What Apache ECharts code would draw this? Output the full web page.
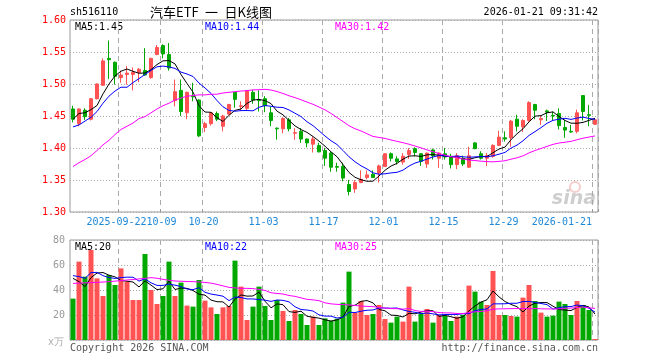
<!DOCTYPE html>
<html><head><meta charset="utf-8">
<script src="https://cdn.jsdelivr.net/npm/echarts@6/dist/echarts.min.js"></script>
<style>html,body{margin:0;padding:0;background:#fff}#c{width:660px;height:360px}</style>
</head><body><div id="c"></div>
<script>
// ---------- data ----------
const dates = [
"2025-09-10","2025-09-11","2025-09-12","2025-09-15","2025-09-16","2025-09-17","2025-09-18","2025-09-19",
"2025-09-22","2025-09-23","2025-09-24","2025-09-25","2025-09-26","2025-09-29","2025-09-30",
"2025-10-09","2025-10-10","2025-10-13","2025-10-14","2025-10-15","2025-10-16","2025-10-17",
"2025-10-20","2025-10-21","2025-10-22","2025-10-23","2025-10-24","2025-10-27","2025-10-28","2025-10-29","2025-10-30","2025-10-31",
"2025-11-03","2025-11-04","2025-11-05","2025-11-06","2025-11-07","2025-11-10","2025-11-11","2025-11-12","2025-11-13","2025-11-14",
"2025-11-17","2025-11-18","2025-11-19","2025-11-20","2025-11-21","2025-11-24","2025-11-25","2025-11-26","2025-11-27","2025-11-28",
"2025-12-01","2025-12-02","2025-12-03","2025-12-04","2025-12-05","2025-12-08","2025-12-09","2025-12-10","2025-12-11","2025-12-12",
"2025-12-15","2025-12-16","2025-12-17","2025-12-18","2025-12-19","2025-12-22","2025-12-23","2025-12-24","2025-12-25","2025-12-26",
"2025-12-29","2025-12-30","2025-12-31",
"2026-01-05","2026-01-06","2026-01-07","2026-01-08","2026-01-09","2026-01-12","2026-01-13","2026-01-14","2026-01-15","2026-01-16",
"2026-01-19","2026-01-20","2026-01-21"];

const tickDates  = ["2025-09-22","2025-10-09","2025-10-20","2025-11-03","2025-11-17","2025-12-01","2025-12-15","2025-12-29","2026-01-21"];
const tickLabels = ["2025-09-22","10-09","10-20","11-03","11-17","12-01","12-15","12-29","2026-01-21"];

const opens  = [1.461,1.438,1.459,1.445,1.477,1.498,1.540,1.534,1.510,1.515,
                1.515,1.518,1.521,1.510,1.546,1.560,1.546,1.474,1.490,1.455,
                1.481,1.475,1.432,1.438,1.454,1.434,1.453,1.487,1.465,1.462,
                1.487,1.475,1.477,1.455,1.431,1.430,1.444,1.423,1.426,1.414,
                1.406,1.404,1.396,1.392,1.371,1.371,1.343,1.336,1.346,1.354,
                1.359,1.361,1.371,1.391,1.383,1.378,1.390,1.399,1.391,1.375,
                1.397,1.384,1.391,1.387,1.374,1.384,1.370,1.408,1.391,1.384,
                1.387,1.404,1.416,1.416,1.445,1.433,1.443,1.468,1.444,1.458,
                1.451,1.454,1.432,1.426,1.426,1.482,1.452,1.437];
const closes = [1.445,1.461,1.449,1.477,1.500,1.536,1.538,1.512,1.514,1.517,
                1.518,1.523,1.514,1.540,1.557,1.547,1.525,1.488,1.457,1.487,
                1.480,1.419,1.438,1.455,1.445,1.450,1.468,1.476,1.466,1.489,
                1.475,1.474,1.466,1.443,1.430,1.446,1.430,1.424,1.414,1.408,
                1.414,1.394,1.384,1.370,1.370,1.353,1.332,1.346,1.351,1.358,
                1.354,1.372,1.391,1.384,1.379,1.387,1.396,1.393,1.379,1.392,
                1.388,1.392,1.386,1.374,1.388,1.375,1.388,1.399,1.384,1.388,
                1.404,1.417,1.414,1.442,1.434,1.443,1.471,1.459,1.446,1.456,
                1.450,1.435,1.428,1.425,1.455,1.457,1.451,1.444];
const lows   = [1.440,1.434,1.444,1.443,1.476,1.497,1.508,1.499,1.502,1.499,
                1.490,1.503,1.513,1.508,1.545,1.540,1.521,1.465,1.450,1.445,
                1.473,1.417,1.425,1.435,1.442,1.426,1.452,1.463,1.458,1.458,
                1.469,1.457,1.456,1.434,1.413,1.423,1.426,1.413,1.408,1.401,
                1.393,1.393,1.372,1.363,1.363,1.348,1.326,1.330,1.345,1.351,
                1.353,1.346,1.371,1.379,1.374,1.374,1.383,1.387,1.372,1.369,
                1.382,1.369,1.382,1.368,1.367,1.372,1.369,1.398,1.382,1.372,
                1.385,1.403,1.410,1.402,1.426,1.425,1.441,1.445,1.436,1.442,
                1.443,1.429,1.416,1.424,1.423,1.443,1.434,1.436];
const highs  = [1.466,1.462,1.462,1.478,1.501,1.540,1.568,1.535,1.521,1.528,
                1.526,1.525,1.556,1.541,1.561,1.562,1.564,1.507,1.507,1.488,
                1.502,1.476,1.441,1.456,1.457,1.452,1.469,1.487,1.473,1.490,
                1.491,1.490,1.481,1.464,1.432,1.448,1.447,1.431,1.431,1.415,
                1.418,1.408,1.400,1.395,1.377,1.377,1.350,1.350,1.365,1.365,
                1.365,1.374,1.392,1.393,1.387,1.392,1.400,1.401,1.392,1.393,
                1.399,1.393,1.400,1.391,1.392,1.388,1.402,1.409,1.395,1.392,
                1.406,1.427,1.426,1.444,1.452,1.445,1.473,1.469,1.450,1.460,
                1.457,1.462,1.444,1.436,1.460,1.482,1.467,1.446];
// volume in 万手
const volumes = [33.1,62.7,50.7,72.0,49.3,35.2,52.0,44.0,57.3,46.7,
                 32.0,32.0,68.8,40.0,28.8,35.2,62.7,35.2,45.9,27.5,
                 26.7,48.0,31.5,26.1,20.8,26.1,27.2,63.5,42.7,16.0,
                 26.7,42.7,27.2,16.0,32.0,23.2,15.2,24.0,20.8,12.0,
                 18.7,12.0,17.3,15.5,17.0,29.9,54.7,21.9,31.2,20.0,
                 20.8,28.0,16.8,13.9,18.7,14.7,42.7,14.7,20.8,24.8,
                 13.9,20.0,19.2,15.2,18.7,20.0,43.5,38.7,30.7,28.0,
                 55.2,20.0,20.0,19.2,18.7,33.9,44.0,31.2,21.9,18.7,
                 19.5,30.7,28.8,20.0,31.2,28.0,24.0,0.8];

// moving-average values at the start of the window (history before it not shown)
const ma5Head  = [1.445,1.454,1.455,1.460];
const ma10Head = [1.433,1.436,1.442,1.448,1.457,1.470,1.481,1.489,1.495];
const ma30Head = [1.371,1.377,1.382,1.388,1.396,1.405,1.412,1.421,1.429,1.434,
                  1.439,1.446,1.449,1.455,1.461,1.466,1.470,1.475,1.478,1.481,
                  1.482,1.483,1.483,1.484,1.484,1.486,1.487,1.488,1.489];
const volMa5Head  = [49.3,46.7,42.7,49.9];
const volMa10Head = [51.5,50.7,49.3,53.9,54.1,51.5,49.9,49.3,49.9];
const volMa30Head = [45.3,45.5,45.7,45.9,46.1,46.4,46.7,47.1,47.5,48.0,
                     48.4,48.9,49.3,49.9,49.4,48.5,47.8,47.2,47.0,46.8,
                     46.7,46.4,46.1,45.5,44.5,43.3,42.1,41.7,41.3];

const priceTicks = [1.30,1.35,1.40,1.45,1.50,1.55,1.60];
const volTicks = [0,20,40,60,80];

// ---------- build ----------
const RED = '#ff5252', GREEN = '#00a800';
const MONO = '"DejaVu Sans Mono", monospace';
function ma(src, n, head) {
  return src.map((v, i) => {
    if (i < n - 1) return head[i];
    let s = 0; for (let k = i - n + 1; k <= i; k++) s += src[k];
    return +(s / n).toFixed(4);
  });
}
const kData = opens.map((o, i) => [o, closes[i], lows[i], highs[i]]);
const volData = volumes.map((v, i) => ({value: v, itemStyle: {color: closes[i] >= opens[i] ? RED : GREEN}}));
const isTick = (idx, val) => tickDates.indexOf(val) >= 0;
const firstTick = tickDates[0];

const splitX = {show: true, interval: isTick, lineStyle: {color: '#aaa', type: [5, 4], width: 1}};
const splitY = {show: true, lineStyle: {color: '#aaa', type: [1, 2], width: 1}};
const labelFmt = v => tickLabels[tickDates.indexOf(v)] || '';

const chart = echarts.init(document.getElementById('c'), null, {renderer: 'canvas', width: 660, height: 360});
const lineS = (name, data, color, xi) => ({
  name, type: 'line', data, xAxisIndex: xi, yAxisIndex: xi, symbol: 'none', silent: true,
  lineStyle: {color, width: 1}, itemStyle: {color}, animation: false
});

chart.setOption({
  animation: false,
  backgroundColor: '#fff',
  grid: [
    {left: 70, right: 62, top: 20, height: 192, show: true, borderColor: '#999', borderWidth: 1, outerBoundsMode: 'none', containLabel: false},
    {left: 70, right: 62, top: 240, height: 100, show: true, borderColor: '#999', borderWidth: 1, outerBoundsMode: 'none', containLabel: false}
  ],
  xAxis: [
    {type: 'category', gridIndex: 0, data: dates, boundaryGap: true,
     axisLine: {show: false},
     axisTick: {show: true, inside: true, length: 3, interval: isTick, lineStyle: {color: '#999'}},
     axisLabel: {show: true, interval: (i, v) => isTick(i, v) && v !== firstTick, hideOverlap: false,
                 color: '#1e88d8', fontFamily: MONO, fontSize: 10, margin: 5,
                 padding: [0, 3, 0, 0], alignMaxLabel: 'right', formatter: labelFmt},
     splitLine: splitX},
    {type: 'category', gridIndex: 1, data: dates, boundaryGap: true,
     axisLine: {show: false}, axisTick: {show: false}, axisLabel: {show: false},
     splitLine: splitX},
    {type: 'category', gridIndex: 0, data: dates, boundaryGap: true, position: 'bottom',
     axisLine: {show: false}, axisTick: {show: false}, splitLine: {show: false},
     axisLabel: {show: true, interval: (i, v) => v === firstTick, hideOverlap: false,
                 color: '#1e88d8', fontFamily: MONO, fontSize: 10, margin: 5,
                 padding: [0, 9, 0, 0], formatter: labelFmt}}
  ],
  yAxis: [
    {type: 'value', gridIndex: 0, min: priceTicks[0], max: priceTicks[priceTicks.length - 1], interval: 0.05,
     axisLine: {show: false}, axisTick: {show: false},
     axisLabel: {color: '#ff0000', fontFamily: MONO, fontSize: 10, margin: 4, formatter: v => v.toFixed(2)},
     splitLine: splitY},
    {type: 'value', gridIndex: 1, min: volTicks[0], max: volTicks[volTicks.length - 1], interval: 20,
     axisLine: {show: false}, axisTick: {show: false},
     axisLabel: {color: '#999', fontFamily: MONO, fontSize: 10, margin: 5, formatter: v => v === 0 ? '' : String(v)},
     splitLine: splitY}
  ],
  series: [
    {type: 'candlestick', xAxisIndex: 0, yAxisIndex: 0, data: kData, barWidth: 4, silent: true,
     itemStyle: {color: RED, color0: GREEN, borderColor: RED, borderColor0: GREEN, borderWidth: 1}},
    lineS('MA5', ma(closes, 5, ma5Head), '#000', 0),
    lineS('MA10', ma(closes, 10, ma10Head), '#0000ff', 0),
    lineS('MA30', ma(closes, 30, ma30Head), '#ff00ff', 0),
    {type: 'bar', xAxisIndex: 1, yAxisIndex: 1, data: volData, barWidth: 5, silent: true},
    lineS('VMA5', ma(volumes, 5, volMa5Head), '#000', 1),
    lineS('VMA10', ma(volumes, 10, volMa10Head), '#0000ff', 1),
    lineS('VMA30', ma(volumes, 30, volMa30Head), '#ff00ff', 1)
  ],
  graphic: [
    {type: 'text', x: 70, y: 12, style: {text: 'sh516110', fill: '#000', font: '10px ' + MONO, textVerticalAlign: 'middle'}},
    {type: 'text', x: 150, y: 12, style: {text: '汽车ETF\u2002一\u2002日K线图', fill: '#000', font: '13px "Noto Sans CJK SC"', textVerticalAlign: 'middle'}},
    {type: 'text', x: 598, y: 12, style: {text: '2026-01-21 09:31:42', fill: '#000', font: '10px ' + MONO, textAlign: 'right', textVerticalAlign: 'middle'}},
    {type: 'text', x: 75, y: 27, style: {text: 'MA5:1.45', fill: '#000', font: '10px ' + MONO, textVerticalAlign: 'middle'}},
    {type: 'text', x: 205, y: 27, style: {text: 'MA10:1.44', fill: '#0000ff', font: '10px ' + MONO, textVerticalAlign: 'middle'}},
    {type: 'text', x: 335, y: 27, style: {text: 'MA30:1.42', fill: '#ff00ff', font: '10px ' + MONO, textVerticalAlign: 'middle'}},
    {type: 'text', x: 75, y: 247, style: {text: 'MA5:20', fill: '#000', font: '10px ' + MONO, textVerticalAlign: 'middle'}},
    {type: 'text', x: 205, y: 247, style: {text: 'MA10:22', fill: '#0000ff', font: '10px ' + MONO, textVerticalAlign: 'middle'}},
    {type: 'text', x: 335, y: 247, style: {text: 'MA30:25', fill: '#ff00ff', font: '10px ' + MONO, textVerticalAlign: 'middle'}},
    {type: 'text', x: 64, y: 342, style: {text: 'x万', fill: '#aaa', font: '10px ' + MONO, textAlign: 'right', textVerticalAlign: 'middle'}},
    {type: 'text', x: 70, y: 348, style: {text: 'Copyright 2026 SINA.COM', fill: '#555', font: '10px ' + MONO, textVerticalAlign: 'middle'}},
    {type: 'text', x: 598, y: 348, style: {text: 'http://finance.sina.com.cn', fill: '#555', font: '10px ' + MONO, textAlign: 'right', textVerticalAlign: 'middle'}},
    {type: 'text', x: 596, y: 199, style: {text: 'sina', fill: 'rgba(190,190,190,0.75)', font: 'italic bold 19px "DejaVu Sans"', textAlign: 'right', textVerticalAlign: 'middle'}},
    {type: 'circle', shape: {cx: 575, cy: 187, r: 5}, style: {fill: 'none', stroke: 'rgba(240,170,170,0.6)', lineWidth: 2}}
  ]
});
</script>
</body></html>
